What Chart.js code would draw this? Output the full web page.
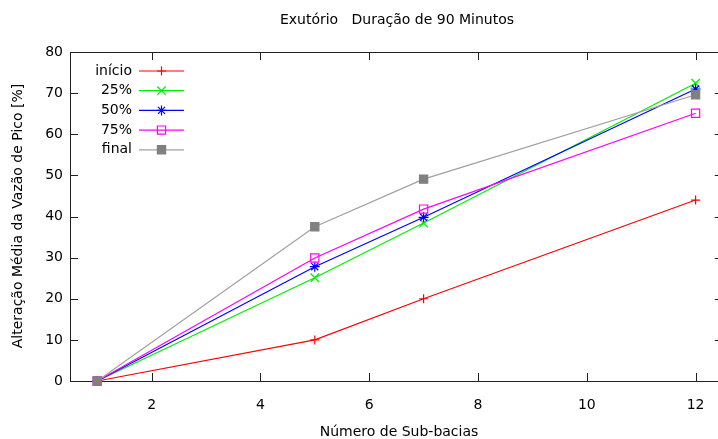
<!DOCTYPE html>
<html>
<head>
<meta charset="utf-8">
<script src="https://cdn.jsdelivr.net/npm/chart.js@4/dist/chart.umd.min.js"></script>
<style>
  html, body { margin: 0; padding: 0; background: #fff; overflow: hidden; }
  #wrap { width: 730px; height: 439px; }
</style>
</head>
<body>
<div id="wrap"><canvas id="c" width="730" height="439"></canvas></div>
<script>
// Number of sub-basins and mean peak-flow change (%) for each rain position
const subBasins = [1, 5, 7, 12];
const inicio = [0, 10, 20, 44];
const p25 = [0, 25.1, 38.4, 72.4];
const p50 = [0, 27.8, 39.8, 71.0];
const p75 = [0, 29.9, 41.8, 65.1];
const final = [0, 37.5, 49.1, 69.6];

const xTicks = [2, 4, 6, 8, 10, 12];
const yTicks = [0, 10, 20, 30, 40, 50, 60, 70, 80];

const titleText = 'Exutório   Duração de 90 Minutos';
const xTitle = 'Número de Sub-bacias';
const yTitle = 'Alteração Média da Vazão de Pico [%]';

const FONT = '"DejaVu Sans", "Liberation Sans", sans-serif';
const FSIZE = 14;

const series = [
  { label: 'início', data: inicio, color: '#ff0000', point: '#ff0000', style: 'cross', radius: 4.5, fill: false },
  { label: '25%', data: p25, color: '#00ee00', point: '#00ee00', style: 'crossRot', radius: 6, fill: false },
  { label: '50%', data: p50, color: '#0000ff', point: '#0000ff', style: 'star', radius: 5, fill: false },
  { label: '75%', data: p75, color: '#ff00ff', point: '#ff00ff', style: 'rect', radius: 5.8, fill: false },
  { label: 'final', data: final, color: '#a0a0a0', point: '#808080', style: 'rect', radius: 5.8, fill: true }
];

const datasets = series.map((s, i) => ({
  label: s.label,
  data: subBasins.map((x, j) => ({ x: x, y: s.data[j] })),
  borderColor: s.color,
  borderWidth: 1.2,
  pointStyle: s.style,
  pointRadius: s.radius,
  pointBorderColor: s.point,
  pointBorderWidth: 1.2,
  pointBackgroundColor: s.fill ? s.point : 'rgba(0,0,0,0)',
  order: series.length - 1 - i,
  tension: 0,
  clip: false
}));

// Border with inward ticks on all four sides, plus titles and key
const frame = {
  id: 'frame',
  beforeDatasetsDraw(chart) {
    const { ctx, chartArea: a, scales } = chart;
    ctx.save();
    ctx.strokeStyle = '#202020';
    ctx.lineWidth = 1;
    ctx.strokeRect(Math.round(a.left) + 0.5, Math.round(a.top) + 0.5,
                   Math.round(a.right - a.left), Math.round(a.bottom - a.top));
    const tl = 8;
    ctx.beginPath();
    xTicks.forEach(v => {
      const px = Math.round(scales.x.getPixelForValue(v)) + 0.5;
      ctx.moveTo(px, a.bottom); ctx.lineTo(px, a.bottom - tl);
      ctx.moveTo(px, a.top); ctx.lineTo(px, a.top + tl);
    });
    yTicks.forEach(v => {
      const py = Math.round(scales.y.getPixelForValue(v)) + 0.5;
      ctx.moveTo(a.left, py); ctx.lineTo(a.left + tl, py);
      ctx.moveTo(a.right, py); ctx.lineTo(a.right - tl, py);
    });
    ctx.stroke();
    ctx.restore();
  },
  afterDraw(chart) {
    const { ctx } = chart;
    ctx.save();
    ctx.fillStyle = '#000';
    ctx.font = FSIZE + 'px ' + FONT;
    ctx.textBaseline = 'middle';
    ctx.textAlign = 'center';
    ctx.fillText(titleText, 397, 20);
    ctx.fillText(xTitle, 399, 432);
    ctx.save();
    ctx.translate(18, 216);
    ctx.rotate(-Math.PI / 2);
    ctx.fillText(yTitle, 0, 0);
    ctx.restore();

    // key
    const rowY0 = 71, rowStep = 19.7;
    series.forEach((s, i) => {
      const y = rowY0 + i * rowStep;
      ctx.textAlign = 'right';
      ctx.fillStyle = '#000';
      ctx.fillText(s.label, 132, y);
      ctx.strokeStyle = s.color;
      ctx.lineWidth = 1.2;
      ctx.beginPath();
      ctx.moveTo(139, y); ctx.lineTo(184, y);
      ctx.stroke();
      ctx.strokeStyle = s.point;
      ctx.fillStyle = s.fill ? s.point : 'rgba(0,0,0,0)';
      Chart.helpers.drawPoint(ctx, {
        pointStyle: s.style, radius: s.radius, rotation: 0, borderWidth: 1.2
      }, 161.5, y);
    });
    ctx.restore();
  }
};

new Chart(document.getElementById('c'), {
  type: 'line',
  data: { datasets: datasets },
  options: {
    responsive: false,
    animation: false,
    devicePixelRatio: 1,
    layout: { padding: { left: 0, top: 52, right: 6, bottom: 0 } },
    plugins: { legend: { display: false }, title: { display: false }, tooltip: { enabled: false } },
    scales: {
      x: {
        type: 'linear',
        min: 0.5,
        max: 12.5,
        grid: { display: false, drawTicks: false },
        border: { display: false },
        afterBuildTicks(scale) { scale.ticks = xTicks.map(v => ({ value: v })); },
        afterFit(scale) { scale.height = 58; },
        ticks: { color: '#000', padding: 16, font: { family: FONT, size: FSIZE }, maxRotation: 0 }
      },
      y: {
        type: 'linear',
        min: 0,
        max: 80,
        grid: { display: false, drawTicks: false },
        border: { display: false },
        afterBuildTicks(scale) { scale.ticks = yTicks.map(v => ({ value: v })); },
        afterFit(scale) { scale.width = 70; },
        ticks: { color: '#000', padding: 7, font: { family: FONT, size: FSIZE } }
      }
    }
  },
  plugins: [frame]
});
</script>
</body>
</html>
